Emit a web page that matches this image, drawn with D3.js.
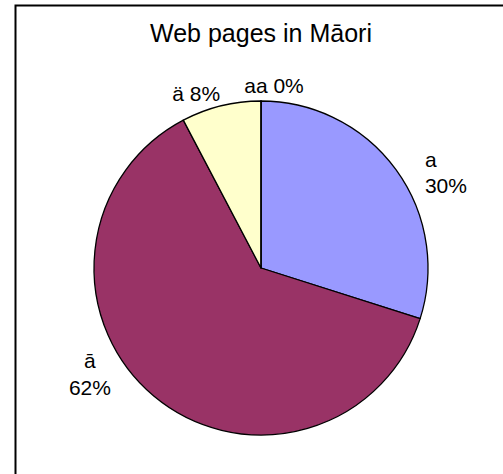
<!DOCTYPE html>
<html>
  <head>
    <meta charset="utf-8">
    <title>Web pages in Māori</title>
    <script src="https://cdnjs.cloudflare.com/ajax/libs/d3/7.8.5/d3.min.js"></script>
    <style>
      body { margin: 0; background: #fff; }
      svg { display: block; font-family: "Liberation Sans", Arial, sans-serif; }
    </style>
  </head>
  <body>
    <svg id="chart" width="503" height="474"></svg>
    <script>
      // data
      var categories = ["a", "ā", "ä", "aa"];
      var shares = [29.9, 62.4, 7.7, 0.0];
      var labels = ["30%", "62%", "8%", "0%"];
      var colours = ["#9999ff", "#993366", "#ffffcc", "#ccffff"];

      var chart = d3.select("#chart");
      var cx = 261, cy = 268, radius = 167;

      // frame (runs off the right and bottom of the window)
      chart.append("rect")
        .attr("x", 15.5)
        .attr("y", 5.5)
        .attr("width", 520)
        .attr("height", 520)
        .attr("fill", "#fff")
        .attr("stroke", "#000")
        .attr("stroke-width", 2);

      chart.append("text")
        .attr("x", cx)
        .attr("y", 42)
        .attr("text-anchor", "middle")
        .style("font-size", "25px")
        .text("Web pages in Māori");

      var pie = d3.pie()
        .value(function(d) { return d; })
        .sort(null);
      var arcs = pie(shares);
      var arc = d3.arc().innerRadius(0).outerRadius(radius);
      var labelArc = d3.arc().innerRadius(radius + 20).outerRadius(radius + 20);

      var g = chart.append("g")
        .attr("transform", "translate(" + cx + "," + cy + ")");

      g.selectAll("path")
        .data(arcs)
        .enter().append("path")
          .attr("d", arc)
          .attr("fill", function(d, i) { return colours[i]; })
          .attr("stroke", "#000")
          .attr("stroke-width", 1.3)
          .attr("stroke-linejoin", "round");

      // label placement, nudged from the outer centroid the way excel sets them
      var labelLayout = [
        { dx: 13, dy: 9, anchor: "start", twoLines: true },
        { dx: -51, dy: -43, anchor: "middle", twoLines: true },
        { dx: -20, dy: 15, anchor: "middle", twoLines: false },
        { dx: 13, dy: 12, anchor: "middle", twoLines: false }
      ];

      var lbl = g.selectAll(".label")
        .data(arcs)
        .enter().append("text")
          .attr("class", "label")
          .attr("text-anchor", function(d, i) { return labelLayout[i].anchor; })
          .style("font-size", "21px")
          .attr("transform", function(d, i) {
            var c = labelArc.centroid(d);
            return "translate(" + (c[0] + labelLayout[i].dx) + "," + (c[1] + labelLayout[i].dy) + ")";
          });

      lbl.each(function(d, i) {
        var t = d3.select(this);
        if (labelLayout[i].twoLines) {
          t.append("tspan").attr("x", 0).attr("y", 0).text(categories[i]);
          t.append("tspan").attr("x", 0).attr("dy", 26.5).text(labels[i]);
        } else {
          t.text(categories[i] + " " + labels[i]);
        }
      });
    </script>
  </body>
</html>
